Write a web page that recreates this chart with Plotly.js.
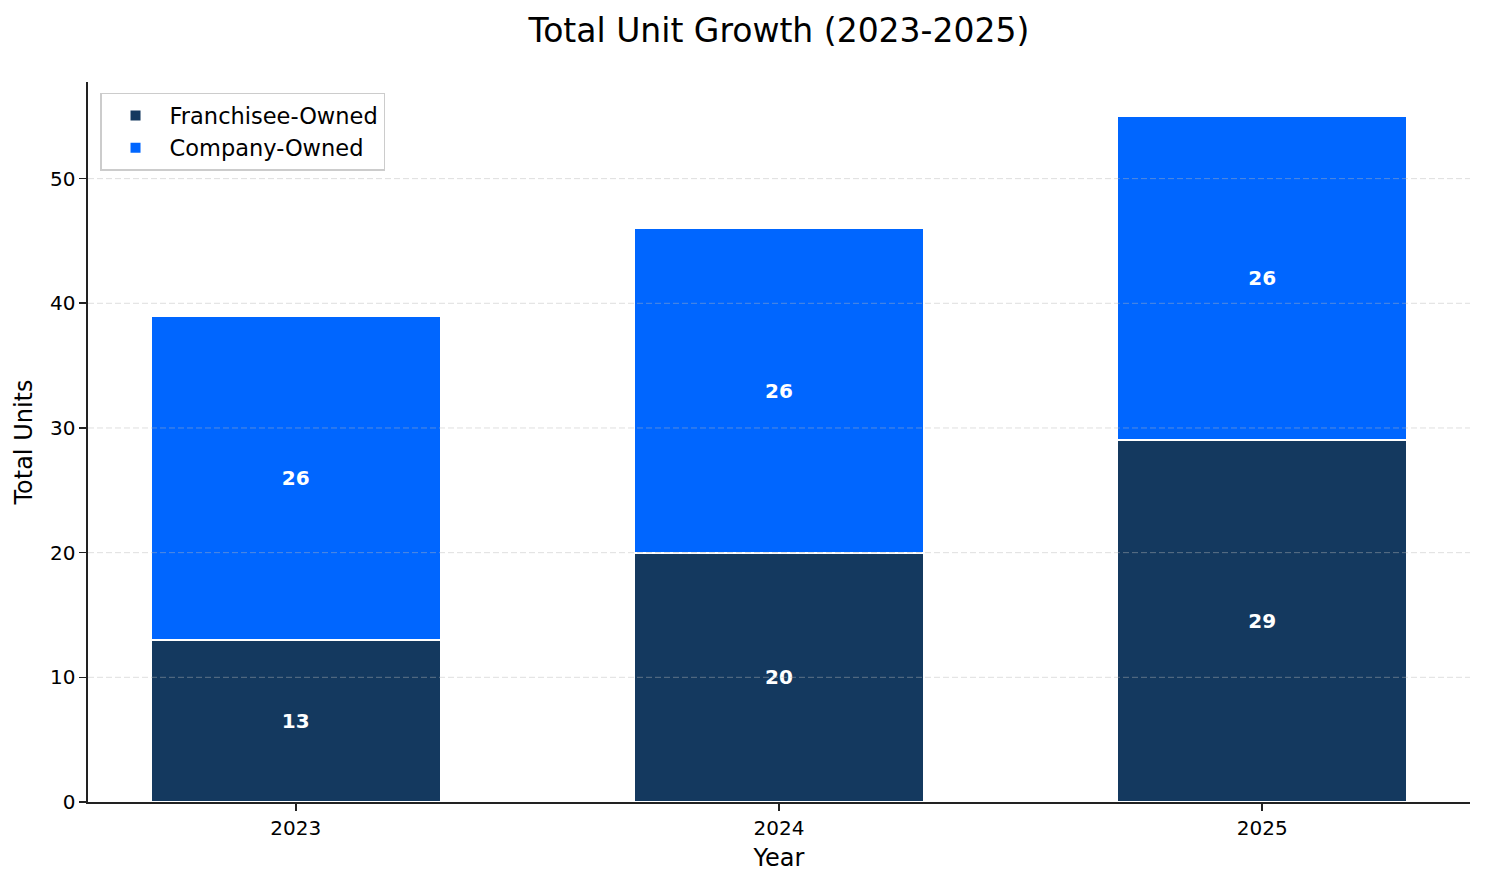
<!DOCTYPE html>
<html>
<head>
<meta charset="utf-8">
<script src="https://cdn.plot.ly/plotly-3.0.1.min.js"></script>
<style>
  html, body { margin: 0; padding: 0; background: #fff; }
  #gd { width: 1485px; height: 884px; }
</style>
</head>
<body>
<div id="gd"></div>
<script>
// values
let years = ['2023', '2024', '2025'];
let franchiseeOwned = [13, 20, 29];
let companyOwned = [26, 26, 26];
let yTicks = [0, 10, 20, 30, 40, 50];

let font = 'DejaVu Sans, Liberation Sans, sans-serif';

let trace1 = {
    x: years,
    y: franchiseeOwned,
    name: 'Franchisee-Owned',
    legendgroup: 'f',
    type: 'bar',
    text: franchiseeOwned.map(String),
    textposition: 'inside',
    insidetextanchor: 'middle',
    textangle: 0,
    textfont: {family: font, size: 20, color: '#ffffff', weight: 'bold'},
    marker: {
        color: '#14395f',
        line: {color: '#ffffff', width: 2}
    },
    hoverinfo: 'skip'
};

let trace2 = {
    x: years,
    y: companyOwned,
    name: 'Company-Owned',
    legendgroup: 'c',
    type: 'bar',
    text: companyOwned.map(String),
    textposition: 'inside',
    insidetextanchor: 'middle',
    textangle: 0,
    textfont: {family: font, size: 20, color: '#ffffff', weight: 'bold'},
    marker: {
        color: '#0066ff',
        line: {color: '#ffffff', width: 2}
    },
    hoverinfo: 'skip'
};

// matplotlib draws the grid above the bars, so use shapes on the top layer
let gridStyle = {color: 'rgba(185,185,185,0.45)', width: 1, dash: '6px,3px'};
let shapes = [];
yTicks.filter(v => v > 0).forEach(v => {
    shapes.push({type: 'line', layer: 'above', xref: 'paper', yref: 'y',
        x0: 0, x1: 1, y0: v, y1: v, line: gridStyle});
});
years.forEach(c => {
    shapes.push({type: 'line', layer: 'above', xref: 'x', yref: 'paper',
        x0: c, x1: c, y0: 0, y1: 1, line: gridStyle});
});

let layout = {
    width: 1485,
    height: 884,
    paper_bgcolor: '#ffffff',
    plot_bgcolor: '#ffffff',
    font: {family: font, color: '#000000'},
    barmode: 'stack',
    bargap: 0.4,
    title: {
        text: 'Total Unit Growth (2023-2025)',
        font: {family: font, size: 33, color: '#000000'},
        x: 0.5,
        xref: 'paper',
        xanchor: 'center',
        y: 1 - 30 / 884,
        yref: 'container',
        yanchor: 'middle'
    },
    xaxis: {
        type: 'category',
        range: [-0.43, 2.43],
        title: {
            text: 'Year',
            font: {family: font, size: 24},
            standoff: 10
        },
        tickfont: {family: font, size: 20},
        showgrid: false,
        showline: true,
        linecolor: '#222222',
        linewidth: 1.6,
        ticks: 'outside',
        ticklen: 7,
        tickwidth: 1.6,
        tickcolor: '#222222',
        zeroline: false,
        automargin: false
    },
    yaxis: {
        range: [0, 57.75],
        tickvals: yTicks,
        title: {
            text: 'Total Units',
            font: {family: font, size: 24},
            standoff: 10
        },
        tickfont: {family: font, size: 20},
        showgrid: false,
        showline: true,
        linecolor: '#222222',
        linewidth: 1.6,
        ticks: 'outside',
        ticklen: 7,
        tickwidth: 1.6,
        tickcolor: '#222222',
        zeroline: false,
        automargin: false
    },
    legend: {
        x: 0.0087,
        y: 0.985,
        xanchor: 'left',
        yanchor: 'top',
        traceorder: 'normal',
        tracegroupgap: 5,
        itemwidth: 58,
        bgcolor: '#ffffff',
        bordercolor: '#cccccc',
        borderwidth: 1.5,
        font: {family: font, size: 22.5, color: '#000000'}
    },
    shapes: shapes,
    margin: {l: 88, r: 15, t: 82, b: 82, pad: 0},
    showlegend: true
};

Plotly.newPlot('gd', [trace1, trace2], layout, {displayModeBar: false, staticPlot: true});
</script>
</body>
</html>
